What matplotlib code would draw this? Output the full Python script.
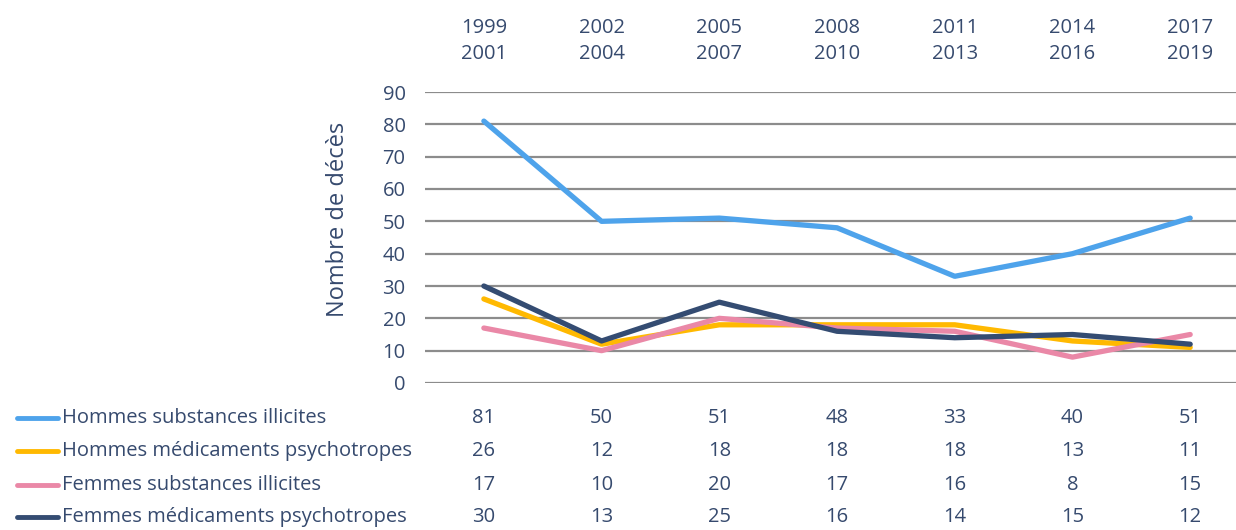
import matplotlib.pyplot as plt
import numpy as np

# Données
periodes = ['1999\n2001', '2002\n2004', '2005\n2007', '2008\n2010',
            '2011\n2013', '2014\n2016', '2017\n2019']
series = ['Hommes substances illicites', 'Hommes médicaments psychotropes',
          'Femmes substances illicites', 'Femmes médicaments psychotropes']
hommes_illicites = [81, 50, 51, 48, 33, 40, 51]
hommes_psychotropes = [26, 12, 18, 18, 18, 13, 11]
femmes_illicites = [17, 10, 20, 17, 16, 8, 15]
femmes_psychotropes = [30, 13, 25, 16, 14, 15, 12]

valeurs = [hommes_illicites, hommes_psychotropes, femmes_illicites, femmes_psychotropes]
couleurs = ['#4ea3eb', '#ffb901', '#ea88a7', '#344c72']
texte = '#364a6e'

plt.rcParams['font.family'] = ['Open Sans', 'DejaVu Sans']
taille = 14.5

W, H = 1236, 530
fig = plt.figure(figsize=(W / 100, H / 100), dpi=100)
ax = fig.add_axes([425 / W, 1 - 383 / H, (W - 425) / W, (383 - 92) / H])

x = np.arange(len(periodes))
for vals, c in zip(valeurs, couleurs):
    ax.plot(x, vals, color=c, linewidth=3.8, solid_capstyle='round', zorder=3)

ax.set_xlim(-0.5, (W - 484) / 117.7)
ax.set_ylim(0, 90)
ax.set_yticks(range(0, 91, 10))
ax.yaxis.grid(True, color='#8c8c8c', linewidth=1.6)
ax.set_axisbelow(True)
for s in ax.spines.values():
    s.set_visible(False)
ax.tick_params(axis='y', length=0, pad=14, labelsize=taille, labelcolor=texte)
ax.set_xticks([])

# Titre de l'axe y (légèrement au-dessus du centre)
fig.text(338 / W, 1 - 219 / H, 'Nombre de décès', rotation=90, fontsize=17,
         color=texte, ha='center', va='center')

# Étiquettes des périodes en haut
for xi, p in zip(x, periodes):
    ax.annotate(p, xy=(xi, 0), xycoords=('data', 'figure fraction'),
                xytext=(xi, 1 - 41 / H), textcoords=('data', 'figure fraction'),
                fontsize=taille, color=texte, ha='center', va='center',
                linespacing=1.4, annotation_clip=False)

# Tableau de données en bas
lignes_y = [418, 451, 485, 517]
for nom, vals, c, yp in zip(series, valeurs, couleurs, lignes_y):
    yf = 1 - yp / H
    fig.add_artist(plt.Line2D([17 / W, 58 / W], [yf, yf], color=c, linewidth=3.5,
                              solid_capstyle='round', transform=fig.transFigure))
    fig.text(62 / W, yf, nom, fontsize=taille, color=texte, ha='left', va='center')
    for xi, v in zip(x, vals):
        ax.annotate(str(v), xy=(xi, 0), xycoords=('data', 'figure fraction'),
                    xytext=(xi, yf), textcoords=('data', 'figure fraction'),
                    fontsize=taille, color=texte, ha='center', va='center',
                    annotation_clip=False)

fig.savefig('out.png', dpi=100)
